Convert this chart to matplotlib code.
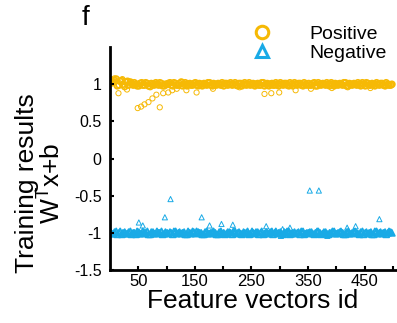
import numpy as np
import matplotlib
matplotlib.use("Agg")
import matplotlib.pyplot as plt
from matplotlib.lines import Line2D

plt.rcParams['font.family'] = ['Liberation Sans', 'DejaVu Sans']

# feature vector ids for the dense band (two interleaved sets, every 5th id)
band_ids_a = list(range(1, 501, 5))
band_ids_b = list(range(3, 501, 5))

pos_band_a = [1.06, 1.03, 1.07, 0.99, 1.05, 0.97, 1.04, 1.03, 0.99, 1.00,
              0.98, 1.02, 0.99, 1.01, 0.97, 1.00, 1.02, 0.99, 1.01, 0.98,
              1.00, 1.02, 0.98, 1.01, 0.99, 1.03, 1.00, 0.98, 1.01, 0.99,
              1.02, 0.98, 1.00, 1.01, 0.99, 1.02, 0.98, 1.00, 1.01, 0.99,
              0.98, 1.01, 1.00, 0.99, 1.02, 0.98, 1.01, 1.00, 0.99, 1.02,
              1.00, 0.98, 1.01, 0.99, 1.02, 1.00, 0.98, 1.01, 0.99, 1.00,
              1.02, 0.99, 1.01, 0.98, 1.00, 1.02, 0.99, 1.01, 0.98, 1.00,
              1.01, 0.99, 1.02, 0.98, 1.00, 1.01, 0.99, 1.00, 1.02, 0.98,
              1.00, 1.01, 0.99, 1.02, 0.98, 1.00, 1.01, 0.99, 1.00, 1.02,
              0.98, 1.01, 0.99, 1.00, 1.02, 0.99, 1.01, 0.98, 1.00, 0.99]
pos_band_b = [1.02, 1.05, 0.98, 1.04, 1.00, 1.03, 0.99, 1.01, 1.02, 0.98,
              1.01, 0.99, 1.02, 0.98, 1.01, 0.99, 1.00, 1.02, 0.98, 1.00,
              1.01, 0.99, 1.02, 0.99, 1.01, 0.98, 1.02, 1.00, 0.99, 1.01,
              0.99, 1.01, 0.98, 1.00, 1.02, 0.99, 1.01, 0.99, 1.00, 1.02,
              1.01, 0.99, 1.02, 1.00, 0.99, 1.01, 0.98, 1.02, 1.00, 0.99,
              1.01, 1.00, 0.99, 1.02, 0.98, 1.01, 1.00, 0.99, 1.02, 0.98,
              1.00, 1.01, 0.99, 1.02, 0.98, 1.00, 1.01, 0.99, 1.02, 0.99,
              0.99, 1.01, 0.98, 1.02, 0.99, 1.00, 1.02, 0.98, 1.00, 1.01,
              0.99, 1.00, 1.02, 0.98, 1.01, 0.99, 1.00, 1.02, 0.98, 1.00,
              1.02, 0.99, 1.01, 0.98, 1.00, 1.01, 0.99, 1.02, 0.99, 1.00]

neg_band_a = [-0.99, -1.01, -0.98, -1.00, -1.02, -0.99, -1.01, -0.98, -1.00, -1.02,
              -0.99, -1.01, -1.00, -0.98, -1.02, -0.99, -1.01, -1.00, -0.98, -1.01,
              -1.00, -0.99, -1.02, -0.98, -1.00, -1.01, -0.99, -1.02, -1.00, -0.98,
              -1.01, -0.99, -1.00, -1.02, -0.98, -1.01, -0.99, -1.00, -1.02, -0.98,
              -1.00, -1.01, -0.99, -1.02, -0.98, -1.00, -1.01, -0.99, -1.00, -1.02,
              -0.98, -1.01, -0.99, -1.00, -1.02, -0.99, -1.01, -0.98, -1.00, -1.01,
              -0.99, -1.02, -1.00, -0.98, -1.01, -0.99, -1.00, -1.02, -0.98, -1.01,
              -1.00, -0.99, -1.02, -0.98, -1.00, -1.01, -0.99, -1.02, -1.00, -0.98,
              -1.01, -0.99, -1.00, -1.02, -0.98, -1.01, -0.99, -1.00, -1.02, -0.98,
              -1.00, -1.01, -0.99, -1.02, -0.98, -1.00, -1.01, -0.99, -1.00, -0.99]
neg_band_b = [-1.01, -0.99, -1.02, -0.98, -1.00, -1.01, -0.99, -1.02, -1.00, -0.98,
              -1.01, -0.98, -1.00, -1.02, -0.99, -1.01, -0.98, -1.00, -1.02, -0.99,
              -1.01, -1.00, -0.98, -1.01, -0.99, -1.00, -1.02, -0.98, -1.01, -0.99,
              -0.98, -1.00, -1.02, -0.99, -1.01, -1.00, -0.98, -1.02, -0.99, -1.01,
              -1.02, -0.99, -1.00, -0.98, -1.01, -0.99, -1.02, -1.00, -0.98, -1.01,
              -1.00, -0.99, -1.02, -0.98, -1.01, -1.00, -0.99, -1.02, -0.98, -1.00,
              -1.01, -0.99, -0.98, -1.02, -1.00, -1.01, -0.99, -0.98, -1.02, -1.00,
              -0.99, -1.01, -1.00, -0.98, -1.02, -0.99, -1.01, -1.00, -0.98, -1.01,
              -1.00, -0.98, -1.02, -0.99, -1.01, -1.00, -0.98, -1.01, -0.99, -1.02,
              -0.99, -1.00, -1.02, -0.98, -1.01, -0.99, -1.00, -1.02, -0.98, -1.00]

# scattered outliers
pos_out_ids = [8, 15, 22, 30, 49, 55, 61, 68, 75, 82, 88, 94, 103, 110, 118, 135,
               153, 182, 229, 273, 285, 299, 328, 355, 392, 420, 460]
pos_out_val = [1.08, 0.88, 1.07, 0.93, 0.68, 0.70, 0.73, 0.76, 0.81, 0.86, 0.69,
               0.88, 0.89, 0.92, 0.94, 0.92, 0.89, 0.94, 0.96, 0.87, 0.88, 0.89,
               0.92, 0.94, 0.95, 0.96, 0.95]

neg_out_ids = [51, 58, 97, 107, 162, 176, 197, 217, 276, 302, 305, 318, 353, 369,
               384, 419, 434, 476]
neg_out_val = [-0.86, -0.90, -0.79, -0.545, -0.79, -0.90, -0.88, -0.89, -0.91,
               -1.04, -0.95, -0.93, -0.43, -0.43, -1.04, -0.93, -0.91, -0.815]

x_ticks = [50, 100, 150, 200, 250, 300, 350, 400, 450, 500]
x_ticklabels = ['50', '', '150', '', '250', '', '350', '', '450', '']
y_ticks = [-1.5, -1, -0.5, 0, 0.5, 1]
y_ticklabels = ['-1.5', '-1', '-0.5', '0', '0.5', '1']

pos_color = '#F6B905'
neg_color = '#19AAE6'

fig = plt.figure(figsize=(3.97, 3.23), dpi=100)
ax = fig.add_axes([0.277, 0.164, 0.72, 0.69])

for ids, vals in [(band_ids_a, pos_band_a), (band_ids_b, pos_band_b)]:
    ax.scatter(ids, vals, s=18, marker='o', facecolors='none',
               edgecolors=pos_color, linewidths=1.3)
ax.scatter(pos_out_ids, pos_out_val, s=14, marker='o', facecolors='none',
           edgecolors=pos_color, linewidths=0.7)
for ids, vals in [(band_ids_a, neg_band_a), (band_ids_b, neg_band_b)]:
    ax.scatter(ids, vals, s=18, marker='^', facecolors='none',
               edgecolors=neg_color, linewidths=1.3)
ax.scatter(neg_out_ids, neg_out_val, s=14, marker='^', facecolors='none',
           edgecolors=neg_color, linewidths=0.7)

ax.set_xlim(0, 505)
ax.set_ylim(-1.5, 1.5)
ax.set_xticks(x_ticks)
ax.set_xticklabels(x_ticklabels, fontsize=12)
ax.set_yticks(y_ticks)
ax.set_yticklabels(y_ticklabels, fontsize=11.5)
ax.tick_params(direction='in', length=3, width=1.5, pad=6)
ax.tick_params(axis='x', pad=3)
for s in ['top', 'right']:
    ax.spines[s].set_visible(False)
for s in ['left', 'bottom']:
    ax.spines[s].set_linewidth(2)

ax.set_xlabel('Feature vectors id', fontsize=19, labelpad=0)
fig.text(0.1, 1 - 183 / 323, 'Training results\nW$^\\mathregular{T}$x+b',
         fontsize=19, rotation=90, ha='center', va='center',
         multialignment='center', linespacing=0.9)

handles = [Line2D([], [], marker='o', linestyle='none', markerfacecolor='none',
                  markeredgecolor=pos_color, markeredgewidth=2.2, markersize=9),
           Line2D([], [], marker='^', linestyle='none', markerfacecolor='none',
                  markeredgecolor=neg_color, markeredgewidth=2.2, markersize=9)]
fig.legend(handles, ['Positive', 'Negative'], loc='center left',
           bbox_to_anchor=(0.592, 0.865), frameon=False, fontsize=14,
           handletextpad=1.91, labelspacing=0.05, handlelength=1.0)

fig.text(0.205, 0.945, 'f', fontsize=20, ha='left', va='center')

fig.savefig('out.png', dpi=100)
